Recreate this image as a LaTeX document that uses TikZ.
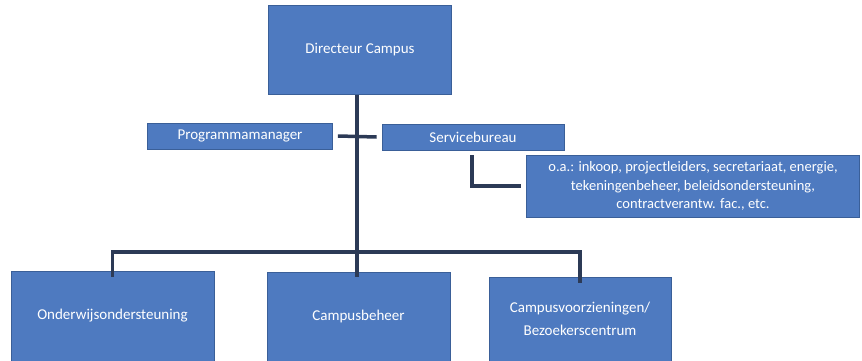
\documentclass[tikz,border=0pt]{standalone}
\usepackage{fontspec}
\setmainfont{Carlito}
\usetikzlibrary{calc}
\definecolor{boxblue}{HTML}{4E7AC0}
\definecolor{boxedge}{HTML}{3A5F98}
\definecolor{linecol}{HTML}{2C3A56}
\tikzset{
  orgbox/.style={draw=boxedge, line width=0.8pt, fill=boxblue, text=white, align=center, inner sep=0pt, font=\fontsize{15}{23}\selectfont},
  conn/.style={draw=linecol, line width=3.5pt}
}
\begin{document}
\begin{tikzpicture}[x=1pt, y=-1pt]
\useasboundingbox (0,0) rectangle (862,361);
\node[orgbox, minimum width=183, minimum height=89] (dir) at (360,50) {Directeur Campus};
\node[orgbox, minimum width=185, minimum height=26] (pm) at (240,136) {Programmamanager};
\node[orgbox, minimum width=182, minimum height=26] (sb) at (473,137) {Servicebureau};
\node[orgbox, minimum width=333, minimum height=62, font=\fontsize{14.5}{18.5}\selectfont] (note) at (693,186) {o.a.: inkoop, projectleiders, secretariaat, energie,\\tekeningenbeheer, beleidsondersteuning,\\contractverantw. fac., etc.};
\node[orgbox, minimum width=203, minimum height=90] (ow) at (112.5,316) {Onderwijsondersteuning};
\node[orgbox, minimum width=183, minimum height=89] (cb) at (358.5,316.5) {Campusbeheer};
\node[orgbox, minimum width=182, minimum height=84] (cv) at (580,319) {Campusvoorzieningen/\\Bezoekerscentrum};
\coordinate (hub) at (357,252);
\draw[conn] ([xshift=-3]dir.south) -- (hub);
\draw[conn] ([xshift=5]pm.east) -- ([xshift=-5]sb.west);
\draw[conn] ([xshift=-1]sb.south) ++(0,5) |- ([xshift=-5]note.west);
\draw[conn] ([yshift=-6]ow.north) -- (ow.north |- hub) -- (cv.north |- hub) -- ([yshift=-6]cv.north);
\draw[conn] (hub) -- ([xshift=-1.5,yshift=-5]cb.north);
\end{tikzpicture}
\end{document}
